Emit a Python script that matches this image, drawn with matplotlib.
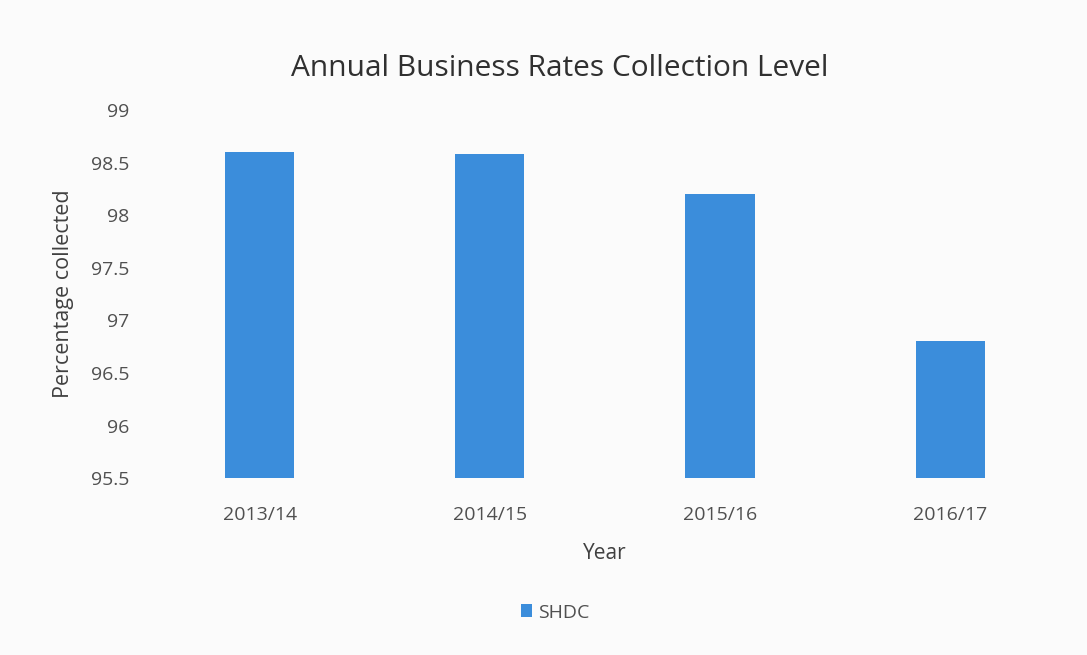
import matplotlib.pyplot as plt

years = ["2013/14", "2014/15", "2015/16", "2016/17"]
collected = [98.6, 98.58, 98.2, 96.8]
y_ticks = [95.5, 96, 96.5, 97, 97.5, 98, 98.5, 99]

plt.rcParams["font.family"] = ["Open Sans", "DejaVu Sans"]

fig = plt.figure(figsize=(10.87, 6.55), dpi=100)
fig.patch.set_facecolor("#fbfbfb")
ax = fig.add_axes([0.133, 0.27, 0.847, 0.562])
ax.set_facecolor("#fbfbfb")

ax.bar(years, [v - 95.5 for v in collected], bottom=95.5, width=0.3,
       color="#3b8ddb", label="SHDC")

ax.set_ylim(95.5, 99)
ax.set_yticks(y_ticks)
ax.set_yticklabels([f"{t:g}" for t in y_ticks])
ax.set_xlim(-0.5, len(years) - 0.5)

for s in ax.spines.values():
    s.set_visible(False)
ax.tick_params(axis="both", length=0, labelsize=14, labelcolor="#505050")
ax.tick_params(axis="x", pad=20)
ax.tick_params(axis="y", pad=11)

ax.set_ylabel("Percentage collected", fontsize=15.5, color="#404040")
ax.yaxis.set_label_coords(-0.077, 0.5)
ax.set_xlabel("Year", fontsize=15, color="#404040", labelpad=14)
fig.text(0.515, 0.896, "Annual Business Rates Collection Level", fontsize=21.5,
         color="#303030", ha="center", va="center")

ax.legend(loc="center", bbox_to_anchor=(0.446, -0.365), frameon=False,
          fontsize=14, handlelength=0.6, handleheight=0.6, handletextpad=0.3,
          labelcolor="#505050")

fig.savefig("out.png", dpi=100, facecolor=fig.get_facecolor())
